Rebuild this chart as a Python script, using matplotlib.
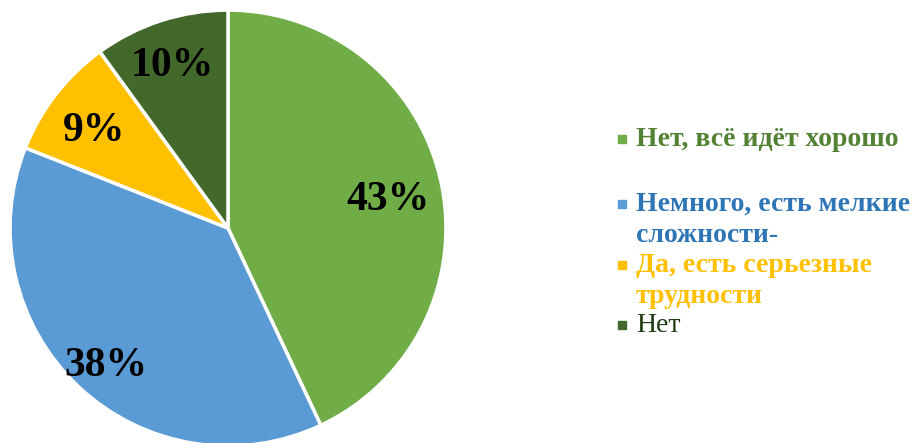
import numpy as np
import matplotlib.pyplot as plt

### Style: Times-like serif font everywhere ###
fontsize = 30
family = 'serif'
plt.rcParams["font.family"] = family
plt.rcParams["font.serif"] = ["Liberation Serif", "DejaVu Serif"]

##### Data of the survey

parts = np.array([43, 38, 9, 10]) # percentages #
noms = ["Нет, всё идёт хорошо", "Немного, есть мелкие\nсложности-",
        "Да, есть серьезные\nтрудности", "Нет"]
couleur = ['#70AD47', '#5B9BD5', '#FFC000', '#43682B'] # wedge colours #
couleur_texte = ['#548235', '#2E75B6', '#FFC000', '#1E3B12'] # legend text colours #
gras = ['bold', 'bold', 'bold', 'normal']
distance = [0.75, 0.82, 0.78, 0.82] # distance of each label from the centre #

fig = plt.figure(figsize=(9.16, 4.43), dpi=100)
ax = fig.add_axes([0.0109, -0.0068, 0.476, 0.984])

wedges, textes, pct = plt.pie(parts, colors=couleur, startangle=90, counterclock=False,
                              autopct='%d%%', pctdistance=0.73,
                              wedgeprops=dict(edgecolor='white', linewidth=2.5))
plt.xlim(-1.0, 1.0)
plt.ylim(-1.0, 1.0)

# put each percentage at its own distance #
for i in range(len(parts)) :
	w = wedges[i]
	ang = np.deg2rad((w.theta1 + w.theta2) / 2)
	pct[i].set_position((distance[i]*np.cos(ang), distance[i]*np.sin(ang) - 0.035))
	pct[i].set_fontsize(fontsize)
	pct[i].set_fontweight('bold')
	pct[i].set_color('black')

##### Legend drawn by hand

y_leg = [1 - 139/443, 1 - 220/443, 1 - 281/443, 1 - 325/443]
for i in range(len(parts)) :
	lignes = noms[i].count("\n") + 1
	y_haut = y_leg[i] + (lignes - 1) * 0.5 * 32/443
	fig.patches.append(plt.Rectangle((618/916, y_haut - 4/443), 8/916, 8/443,
	                                 transform=fig.transFigure, color=couleur[i]))
	fig.text(636/916, y_leg[i], noms[i], color=couleur_texte[i], fontsize=20,
	         fontweight=gras[i], va='center', ha='left', linespacing=1.35)

plt.savefig('out.png', dpi=100)
